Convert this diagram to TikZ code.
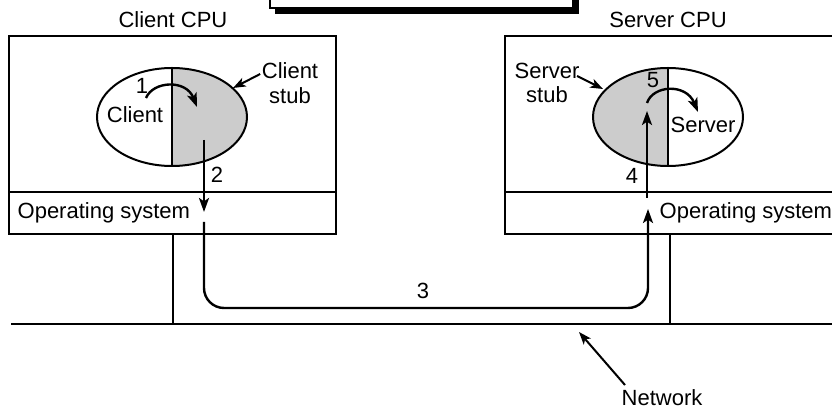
\documentclass[tikz,border=0pt]{standalone}
\usepackage{fontspec}
\setmainfont{Liberation Sans}
\usetikzlibrary{arrows.meta}

\definecolor{stubgray}{RGB}{204,204,204}

\tikzset{every picture/.style={line width=1pt}}
\tikzset{
  lbl/.style={inner sep=0.75pt, font=\fontsize{16.5}{18.5}\selectfont, align=center},
  num/.style={inner sep=0.75pt, font=\fontsize{16.5}{18.5}\selectfont},
  frame/.style={line width=1.3pt},
  flow/.style={line width=1.8pt, -{Stealth[length=10.5pt,width=7.5pt,inset=2.5pt]}},
  pointer/.style={line width=1.5pt, -{Stealth[length=9.5pt,width=7pt,inset=2.5pt]}}
}

\begin{document}
\begin{tikzpicture}[x=0.75pt,y=0.75pt,yscale=-1,xscale=1]
\useasboundingbox (0,0) rectangle (832,409);
\clip (0,0) rectangle (832,409);

%Title box with shadow, cut off at the top
\fill (275,8) rectangle (579,14);
\fill (573,-20) rectangle (579,14);
\draw [line width=0.9pt] (270,-20) rectangle (573,8);

%Client CPU box
\draw [frame] (9,36) rectangle (336,234);
\draw [frame] (9,192) -- (336,192);
%Server CPU box
\draw [frame] (505,36) rectangle (850,234);
\draw [frame] (505,192) -- (850,192);

%Network and the legs of the machines
\draw [frame] (11,324) -- (850,324);
\draw [frame] (173,234) -- (173,324);
\draw [frame] (670,234) -- (670,324);

%Client ellipse, stub shaded
\fill [stubgray] (172,68) arc [start angle=-90, end angle=90, x radius=75, y radius=49] -- cycle;
\draw [line width=1.5pt] (172,117) ellipse [x radius=75, y radius=49];
\draw [line width=1.5pt] (172,68) -- (172,166);
%Server ellipse, stub shaded
\fill [stubgray] (668,68) arc [start angle=-90, end angle=-270, x radius=75, y radius=49] -- cycle;
\draw [line width=1.5pt] (668,117) ellipse [x radius=75, y radius=49];
\draw [line width=1.5pt] (668,68) -- (668,166);

% Text Node
\node [lbl] (clientcpu) at (173,20) {Client CPU};
% Text Node
\node [lbl] (servercpu) at (668,20) {Server CPU};
% Text Node
\node [lbl, anchor=west] (clientos) at (16,213) {Operating system};
% Text Node
\node [lbl, anchor=west] (serveros) at (658,213) {Operating system};
% Text Node
\node [lbl] (client) at (135,115) {Client};
% Text Node
\node [lbl] (server) at (703,125) {Server};
% Text Node
\node [lbl] (clientstub) at (290,83) {Client\\stub};
% Text Node
\node [lbl] (serverstub) at (547,83) {Server\\stub};
% Text Node
\node [lbl] (network) at (662,398) {Network};
% Text Node
\node [num] (one) at (142,86) {1};
\node [num] (two) at (217,175) {2};
\node [num] (three) at (423,291) {3};
\node [num] (four) at (632,176) {4};
\node [num] (five) at (653,80) {5};

%Coordinates of the message path
\coordinate (cstart) at (146,98);
\coordinate (cstop) at (197,107);
\coordinate (sstart) at (647,103);
\coordinate (sstop) at (698,112);
\coordinate (down) at (204,140);
\coordinate (downend) at (204,212);
\coordinate (wire) at (204,222);
\coordinate (wireend) at (648,209);
\coordinate (up) at (647,198);
\coordinate (upend) at (647,111);
\coordinate (cedge) at (233,88);
\coordinate (sedge) at (603,89);
\coordinate (nettail) at (625,385);
\coordinate (netpt) at (579,332);

%Step 1: client calls its stub
\draw [flow] (cstart) .. controls (153,81) and (186,79) .. (cstop);
%Step 2: stub to the kernel
\draw [flow] (down) -- (downend);
%Step 3: over the network
\draw [flow, rounded corners=15] (wire) -- (204,308) -- (648,308) -- (wireend);
%Step 4: kernel to the server stub
\draw [flow] (up) -- (upend);
%Step 5: stub calls the server
\draw [flow] (sstart) .. controls (653,85) and (686,83) .. (sstop);

%Pointers
\draw [pointer] (clientstub.west |- 0,74) -- (cedge);
\draw [pointer] (577,76) -- (sedge);
\draw [pointer] (nettail) -- (netpt);

\end{tikzpicture}
\end{document}
